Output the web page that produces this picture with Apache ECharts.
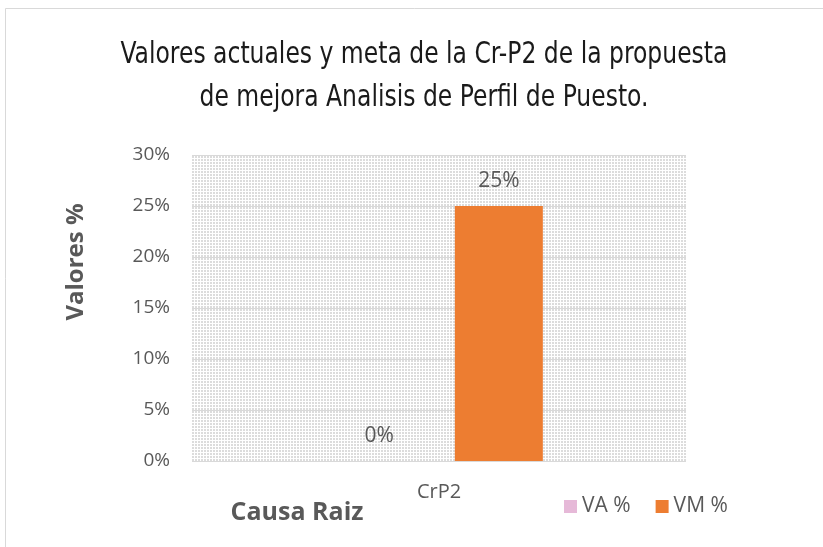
<!DOCTYPE html>
<html>
<head>
<meta charset="utf-8">
<script src="https://cdn.jsdelivr.net/npm/echarts@6/dist/echarts.min.js"></script>
<style>html,body{margin:0;padding:0;background:#fff;}#c{width:823px;height:547px;}</style>
</head>
<body>
<div id="c"></div>
<script>
var categories = ['CrP2'];
var seriesNames = ['VA %', 'VM %'];
var vaValues = [0];
var vmValues = [25];
var yMin = 0, yMax = 30, yInterval = 5;
var titleLines = ['Valores actuales y meta de la Cr-P2 de la propuesta', 'de mejora Analisis de Perfil de Puesto.'];

var pc = document.createElement('canvas');
pc.width = 3; pc.height = 3;
var pctx = pc.getContext('2d');
pctx.fillStyle = '#ffffff'; pctx.fillRect(0,0,3,3);
pctx.fillStyle = '#dcdcdc'; pctx.fillRect(0,0,2,2);

var FONT = '"Open Sans", sans-serif';
var chart = echarts.init(document.getElementById('c'), null, {renderer:'canvas'});
function labelStyle(){
  return {show:true, position:'top', distance:14, color:'#595959', fontSize:21, fontFamily:FONT, formatter:function(p){return p.value + '%';}};
}
chart.setOption({
  animation:false,
  backgroundColor:'#ffffff',
  graphic:[
    {type:'rect', shape:{x:5.5, y:8.5, width:830, height:560}, style:{fill:'none', stroke:'#d9d9d9', lineWidth:1}, z:-10},
    {type:'text', x:424, y:55, scaleX:0.87, style:{text:titleLines[0], font:'30px "DejaVu Sans Condensed", "DejaVu Sans", sans-serif', fill:'#1a1a1a', align:'center', verticalAlign:'middle'}},
    {type:'text', x:424, y:98, scaleX:0.87, style:{text:titleLines[1], font:'30px "DejaVu Sans Condensed", "DejaVu Sans", sans-serif', fill:'#1a1a1a', align:'center', verticalAlign:'middle'}},
    {type:'text', x:297, y:513, style:{text:'Causa Raiz', font:'bold 25px ' + FONT, fill:'#595959', align:'center', verticalAlign:'middle'}},
    {type:'text', x:76, y:262, rotation:Math.PI/2, style:{text:'Valores %', font:'bold 24px ' + FONT, fill:'#595959', align:'center', verticalAlign:'middle'}}
  ],
  grid:{left:192, top:155, width:494, height:306, show:true, borderWidth:0, backgroundColor:{image:pc, repeat:'repeat'}},
  legend:{left:564, top:496, padding:0, itemWidth:13, itemHeight:13, itemGap:25, icon:'rect', textStyle:{color:'#595959', fontSize:21, fontFamily:FONT}, data:seriesNames},
  xAxis:{type:'category', data:categories, axisLine:{show:false}, axisTick:{show:false}, axisLabel:{color:'#595959', fontSize:20, margin:21, fontFamily:FONT}},
  yAxis:{type:'value', min:yMin, max:yMax, interval:yInterval,
    axisLine:{show:false}, axisTick:{show:false},
    axisLabel:{color:'#595959', fontSize:19, margin:22, formatter:'{value}%', fontFamily:FONT},
    splitLine:{lineStyle:{color:'#d9d9d9', width:1}}},
  series:[
    {name:seriesNames[0], type:'bar', data:vaValues, barWidth:88, barGap:'36%', itemStyle:{color:'#e6b9d8'}, label:labelStyle()},
    {name:seriesNames[1], type:'bar', data:vmValues, barWidth:88, itemStyle:{color:'#ed7d31'}, label:labelStyle()}
  ]
});
</script>
</body>
</html>
